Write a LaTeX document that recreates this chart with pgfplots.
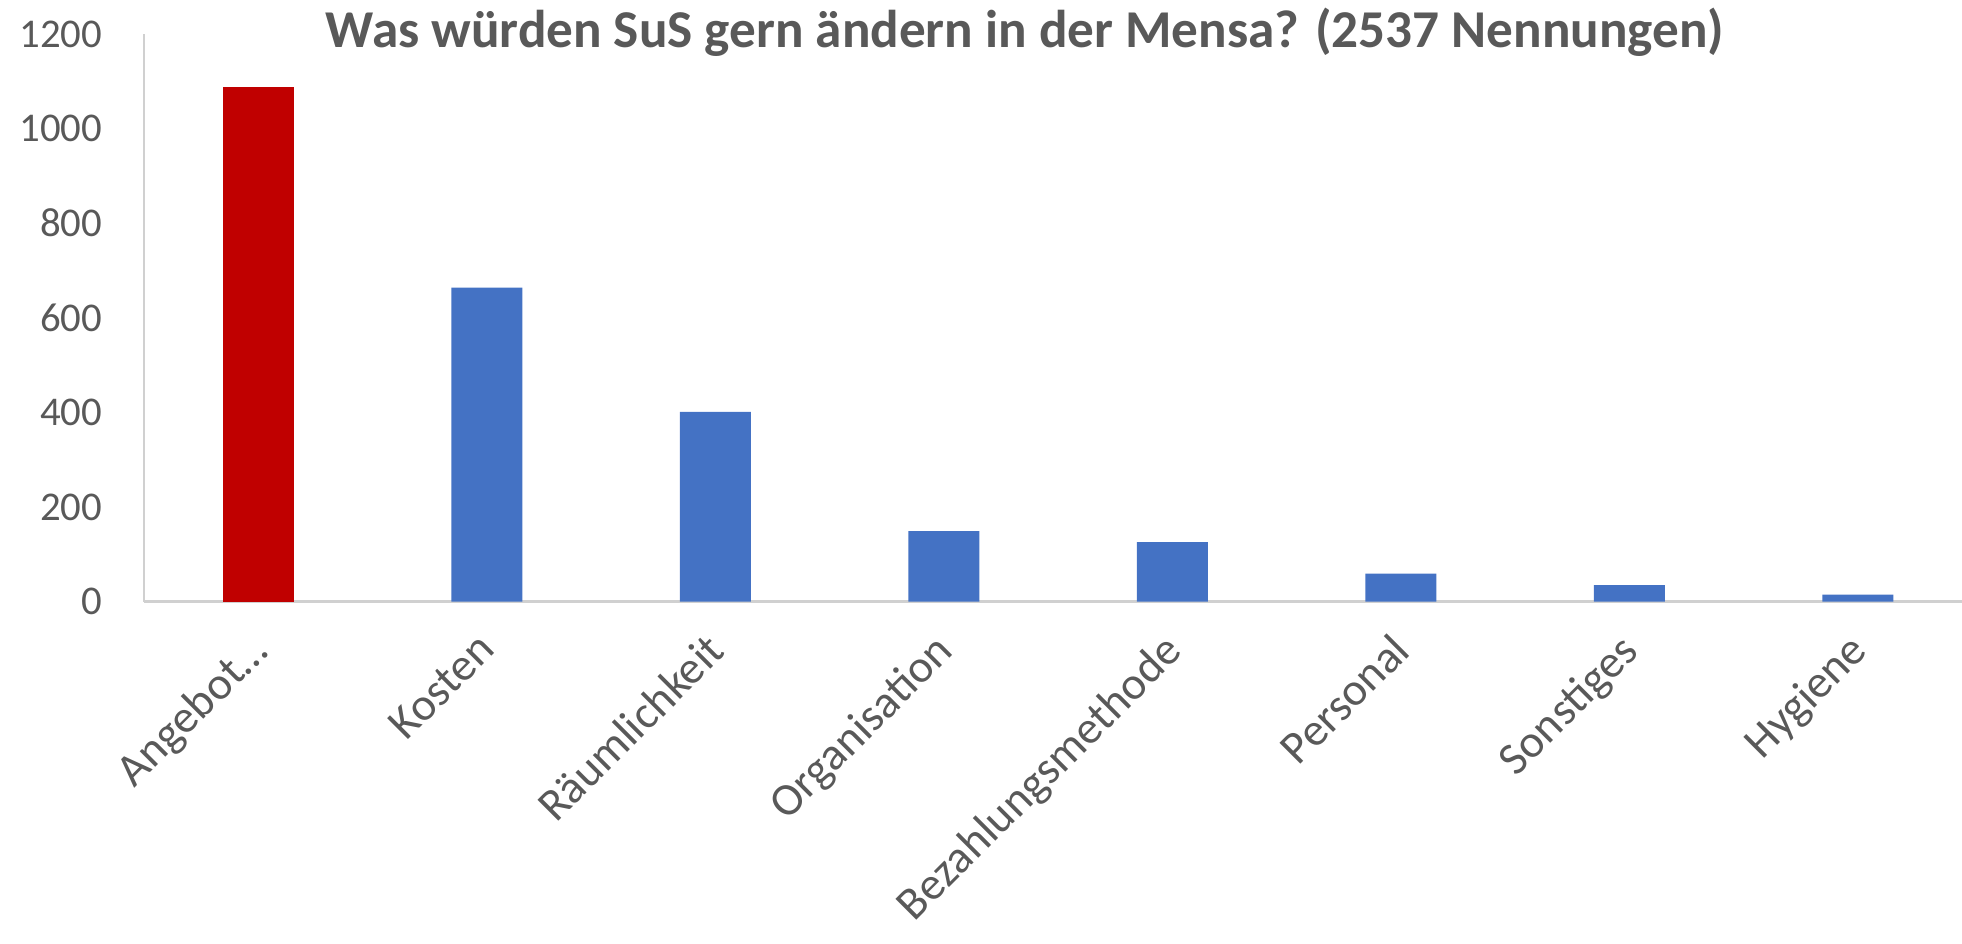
\documentclass[border=0pt]{standalone}
\usepackage{fontspec}
\setmainfont{Carlito}
\usepackage{pgfplots}
\pgfplotsset{compat=1.18}

\definecolor{txtgray}{HTML}{595959}
\definecolor{axgray}{HTML}{D0D0D0}
\definecolor{barred}{HTML}{C00000}
\definecolor{barblue}{HTML}{4472C4}

\begin{document}
\begin{tikzpicture}
\begin{axis}[
  at={(0,0)}, anchor=south west,
  scale only axis, width=454.5pt, height=141.9pt,
  ybar, bar width=17.75pt, bar shift=0pt,
  xmin=-0.5, xmax=7.456, ymin=0, ymax=1200,
  xtick={0,...,7},
  xticklabels={Angebot…,Kosten,Räumlichkeit,Organisation,Bezahlungsmethode,Personal,Sonstiges,Hygiene},
  ytick={0,200,...,1200},
  axis x line=bottom, axis y line=left,
  axis line style={-, color=axgray, line width=0.6pt},
  major tick length=0pt,
  /pgf/number format/assume math mode=true,
  /pgf/number format/1000 sep={},
  yticklabel style={anchor=east, inner sep=0pt, xshift=-10.25pt,
    font=\fontsize{10.2}{12}\selectfont, color=txtgray},
  xticklabel style={rotate=45, anchor=north east, inner sep=0pt, xshift=-7pt, yshift=-3pt,
    font=\fontsize{11.5}{14}\selectfont, color=txtgray},
  clip=false,
]
\addplot[fill=barred, draw=none] coordinates {(0,1088)};
\addplot[fill=barblue, draw=none] coordinates {(1,664) (2,401) (3,149) (4,126) (5,59) (6,35) (7,15)};
\node[anchor=base, font=\fontsize{13.3}{16}\selectfont\bfseries, color=txtgray, yshift=-3.4pt]
  at (rel axis cs:0.4846,1) {Was würden SuS gern ändern in der Mensa? (2537 Nennungen)};
\end{axis}
\pgfresetboundingbox
\path[use as bounding box] (-36pt,-85.4pt) rectangle (454.5pt,150.4pt);
\end{tikzpicture}
\end{document}
